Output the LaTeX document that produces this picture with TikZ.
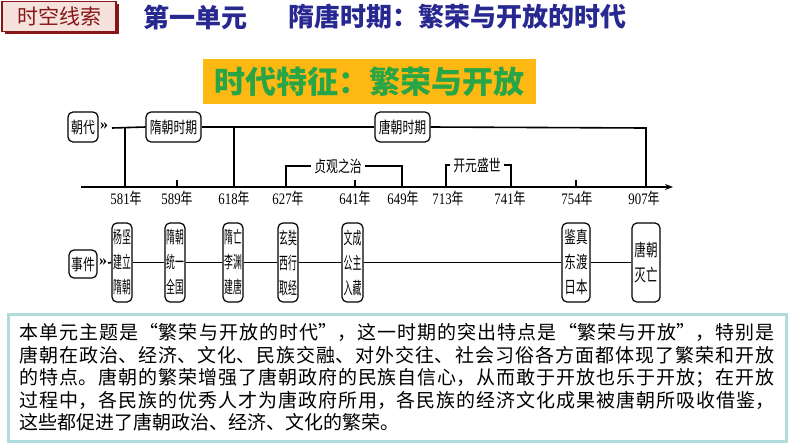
\documentclass[tikz,border=0pt]{standalone}
\usepackage{fontspec}
\setmainfont{Liberation Serif}
\newfontfamily\cjk{Noto Sans CJK SC}
\newfontfamily\cjkP[RawFeature=+fwid]{Noto Sans CJK SC}
\newfontfamily\cjkC[FakeStretch=0.74]{Noto Sans CJK SC}
\newfontfamily\cjkN[FakeStretch=0.52]{Noto Sans CJK SC}
\newfontfamily\cjkM[FakeStretch=0.68]{Noto Sans CJK SC}
\newfontfamily\numf[FakeStretch=0.8]{Liberation Serif}
\XeTeXlinebreaklocale "zh"
\XeTeXlinebreakskip=0pt plus 3pt
\usetikzlibrary{arrows.meta}
\definecolor{navy}{RGB}{40,40,145}
\definecolor{dred}{RGB}{135,22,22}
\definecolor{pinkf}{RGB}{246,226,220}
\definecolor{gold}{RGB}{253,184,19}
\definecolor{gtext}{RGB}{40,165,70}
\definecolor{teal}{RGB}{178,220,220}
\newcommand\yrlab[1]{{\numf #1}{\cjkC 年}}
\begin{document}
\begin{tikzpicture}[x=1pt,y=-1pt,
  tl/.style={line width=1.6pt},
  lbox/.style={draw,line width=1.2pt,rounded corners=5pt,inner sep=0pt,minimum height=30pt,font=\cjkC\fontsize{16}{16}\selectfont},
  evbox/.style={draw,line width=1.2pt,rounded corners=5pt,inner sep=0pt,minimum height=79pt,align=center},
  evn/.style={evbox,minimum width=20pt,font=\cjkN\fontsize{17}{25}\selectfont},
  evw/.style={evbox,minimum width=28pt,font=\cjkM\fontsize{17}{25}\selectfont},
  yr/.style={inner sep=0pt,font=\fontsize{16}{16}\selectfont},
  br/.style={inner sep=3pt,font=\cjkC\fontsize{16}{16}\selectfont},
  gt/.style={inner sep=0pt,font=\bfseries\fontsize{16}{16}\selectfont}
]
\useasboundingbox (0,0) rectangle (794,445);
% header label
\fill[dred] (5,4) rectangle (119,34);
\node[draw=dred,line width=1.5pt,fill=pinkf,minimum width=114pt,minimum height=30pt,inner sep=0pt,
  text=dred,font=\cjk\fontsize{21}{21}\selectfont] (hdr) at (59,16.5) {时空线索};
% title
\node[anchor=west,inner sep=0pt,text=navy,font=\cjk\bfseries\fontsize{26}{26}\selectfont] (t1) at (143,17) {第一单元};
\node[anchor=west,inner sep=0pt,text=navy,font=\cjk\bfseries\fontsize{26}{26}\selectfont] (t2) at (288,17) {隋唐时期：繁荣与开放的时代};
% feature banner
\node[fill=gold,minimum width=333pt,minimum height=45pt,inner sep=0pt,text=gtext,
  font=\cjk\bfseries\fontsize{31}{31}\selectfont] (feat) at (369.5,81.5) {时代特征：繁荣与开放};
% dynasty row
\node[lbox,minimum width=30pt] (chao) at (83,127) {朝代};
\node[gt] (g1) at (104,126) {»};
\node[lbox,minimum width=55pt] (sui) at (173.5,127) {隋朝时期};
\node[lbox,minimum width=55pt] (tang) at (402.5,127) {唐朝时期};
\coordinate (d0) at (112,128);
\coordinate (d1) at (646,128);
\coordinate (v581) at (125,128);
\coordinate (v618) at (234,128);
% axis points
\coordinate (ax0) at (81,187);
\coordinate (ax1) at (673,187);
\coordinate (a581) at (125,187);
\coordinate (a589) at (177,187);
\coordinate (a618) at (234,187);
\coordinate (a627) at (286,187);
\coordinate (a641) at (355,187);
\coordinate (a649) at (402,187);
\coordinate (a713) at (446,187);
\coordinate (a741) at (511,187);
\coordinate (a754) at (576,187);
\coordinate (a907) at (646,187);
\draw[tl] (d0) -- (sui.west);
\draw[tl] (sui.east) -- (tang.west);
\draw[tl] (tang.east) -- (d1) -- (a907);
\draw[tl] (v581) -- (a581);
\draw[tl] (v618) -- (a618);
\draw[tl,-{Stealth[length=8pt,width=6pt]}] (ax0) -- (ax1);
\draw[tl] (a589) -- ++(0,-7);
\draw[tl] (a641) -- ++(0,-7);
\draw[tl] (a754) -- ++(0,-7);
% brackets
\node[br] (zg) at (338,166) {贞观之治};
\draw[tl] (a627) |- (zg.west);
\draw[tl] (zg.east) -| (a649);
\node[br] (ky) at (477,165) {开元盛世};
\draw[tl] (a713) |- (ky.west);
\draw[tl] (ky.east) -| (a741);
% years
\node[yr] (y581) at (126,198) {\yrlab{581}};
\node[yr] (y589) at (177,198) {\yrlab{589}};
\node[yr] (y618) at (234,198) {\yrlab{618}};
\node[yr] (y627) at (288,198) {\yrlab{627}};
\node[yr] (y641) at (355,198) {\yrlab{641}};
\node[yr] (y649) at (403,198) {\yrlab{649}};
\node[yr] (y713) at (448,198) {\yrlab{713}};
\node[yr] (y741) at (510,198) {\yrlab{741}};
\node[yr] (y754) at (577,198) {\yrlab{754}};
\node[yr] (y907) at (644,198) {\yrlab{907}};
% event row
\node[lbox,minimum width=28pt,minimum height=28pt] (shi) at (83,264) {事件};
\node[gt] (g2) at (103,262) {»};
\coordinate (e0) at (108,263);
\node[evn] (e1) at (122,262.5) {杨坚\\建立\\隋朝};
\node[evn] (e2) at (175,262.5) {隋朝\\统一\\全国};
\node[evn] (e3) at (233,262.5) {隋亡\\李渊\\建唐};
\node[evn] (e4) at (288,262.5) {玄奘\\西行\\取经};
\node[evn,minimum width=21pt] (e5) at (352.5,262.5) {文成\\公主\\入藏};
\node[evw] (e6) at (576,262.5) {鉴真\\东渡\\日本};
\node[evw] (e7) at (646,262.5) {唐朝\\灭亡};
\draw[tl] (e0) -- (e1.west);
\draw[tl] (e1.east) -- (e2.west);
\draw[tl] (e2.east) -- (e3.west);
\draw[tl] (e3.east) -- (e4.west);
\draw[tl] (e4.east) -- (e5.west);
\draw[tl] (e5.east) -- (e6.west);
\draw[tl] (e6.east) -- (e7.west);
% summary paragraph
\node[draw=teal,line width=3pt,fill=white,minimum width=778pt,minimum height=127pt,inner sep=0pt,
  text width=755pt,align=justify,font=\cjkP\fontsize{19}{22.5}\selectfont] (para) at (397,377.5)
{\parindent=0pt 本单元主题是“繁荣与开放的时代”，这一时期的突出特点是“繁荣与开放”，特别是\linebreak
唐朝在政治、经济、文化、民族交融、对外交往、社会习俗各方面都体现了繁荣和开放\linebreak
的特点。唐朝的繁荣增强了唐朝政府的民族自信心，从而敢于开放也乐于开放；在开放\linebreak
过程中，各民族的优秀人才为唐政府所用，各民族的经济文化成果被唐朝所吸收借鉴，\linebreak
这些都促进了唐朝政治、经济、文化的繁荣。};
\end{tikzpicture}
\end{document}
